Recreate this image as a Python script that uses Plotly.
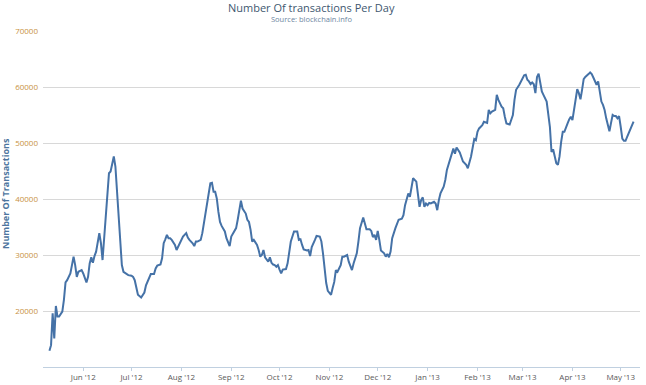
import plotly.graph_objects as go

dates_2012 = [
    "05-11", "05-12", "05-13", "05-14", "05-15", "05-16", "05-17", "05-19", "05-20", "05-21",
    "05-22", "05-24", "05-25", "05-26", "05-27", "05-28", "05-29", "05-31", "06-01", "06-02",
    "06-03", "06-04", "06-05", "06-06", "06-07", "06-08", "06-09", "06-11", "06-12", "06-13",
    "06-14", "06-15", "06-16", "06-17", "06-18", "06-19", "06-20", "06-21", "06-22", "06-23",
    "06-24", "06-25", "06-26", "06-28", "06-29", "07-01", "07-02", "07-03", "07-04", "07-05",
    "07-07", "07-08", "07-09", "07-10", "07-12", "07-13", "07-15", "07-16", "07-17", "07-19",
    "07-20", "07-21", "07-22", "07-23", "07-24", "07-25", "07-26", "07-28", "07-29", "07-30",
    "08-01", "08-02", "08-04", "08-05", "08-06", "08-08", "08-09", "08-10", "08-11", "08-13",
    "08-14", "08-15", "08-16", "08-18", "08-19", "08-20", "08-21", "08-22", "08-23", "08-24",
    "08-25", "08-26", "08-28", "08-29", "08-31", "09-01", "09-03", "09-04", "09-05", "09-06",
    "09-07", "09-08", "09-10", "09-11", "09-12", "09-13", "09-14", "09-15", "09-17", "09-18",
    "09-19", "09-20", "09-21", "09-22", "09-24", "09-25", "09-26", "09-27", "09-28", "09-29",
    "09-30", "10-01", "10-02", "10-03", "10-05", "10-06", "10-07", "10-08", "10-10", "10-12",
    "10-13", "10-14", "10-15", "10-16", "10-18", "10-19", "10-20", "10-21", "10-23", "10-24",
    "10-26", "10-27", "10-28", "10-29", "10-30", "10-31", "11-02", "11-03", "11-04", "11-05",
    "11-06", "11-08", "11-09", "11-10", "11-12", "11-13", "11-14", "11-15", "11-16", "11-18",
    "11-19", "11-20", "11-22", "11-23", "11-24", "11-26", "11-27", "11-28", "11-29", "11-30",
    "12-01", "12-02", "12-03", "12-05", "12-06", "12-07", "12-08", "12-09", "12-10", "12-12",
    "12-13", "12-14", "12-16", "12-17", "12-18", "12-20", "12-21", "12-22", "12-23", "12-25",
    "12-26", "12-27", "12-28", "12-29", "12-30", "12-31",
]
values_2012 = [
    12900, 13900, 19600, 15100, 20900, 19000, 19000, 19900, 22000, 25100,
    25500, 26700, 28200, 29700, 28200, 26100, 27000, 27300, 26700, 25800,
    25100, 26100, 28500, 29600, 28600, 29800, 30600, 33900, 32100, 29100,
    33300, 37400, 41600, 44600, 44900, 46100, 47600, 45800, 41600, 36800,
    31500, 28200, 27000, 26600, 26400, 26300, 26100, 25500, 24000, 22900,
    22400, 22900, 23300, 24600, 26100, 26600, 26600, 27600, 28100, 28300,
    29400, 32100, 32800, 33600, 33000, 33000, 32700, 31800, 30900, 31500,
    32400, 33300, 33900, 33100, 32700, 32100, 31600, 32400, 32400, 32700,
    33900, 35700, 38000, 41300, 42800, 42900, 41300, 41300, 40100, 37700,
    35900, 35200, 34200, 33000, 31600, 33300, 34500, 34800, 36300, 37700,
    39700, 38300, 37400, 36300, 35900, 34500, 32400, 32700, 31800, 30900,
    29700, 30000, 30900, 29600, 28800, 29600, 28600, 28300, 28200, 27900,
    28200, 27400, 26700, 27400, 27500, 28500, 30600, 32400, 34200, 34200,
    32700, 32800, 31800, 31000, 30800, 30900, 29800, 31400, 32700, 33400,
    33300, 32400, 30300, 27300, 25000, 23600, 22900, 24100, 25200, 27300,
    27000, 28200, 29700, 29700, 30000, 28800, 27900, 27300, 28500, 30300,
    32400, 34800, 36700, 35800, 34600, 34600, 34300, 33200, 33600, 32700,
    34300, 32700, 30800, 30300, 29700, 30200, 29600, 30600, 33000, 34800,
    35700, 36300, 36500, 37100, 38900, 41000, 40400, 42500, 43700, 43100,
    40400, 38600, 39800, 40300, 38600, 39200,
]
dates_2013 = [
    "01-01", "01-02", "01-03", "01-05", "01-06", "01-07", "01-08", "01-09", "01-11", "01-12",
    "01-13", "01-14", "01-16", "01-17", "01-18", "01-19", "01-21", "01-22", "01-23", "01-25",
    "01-26", "01-28", "01-29", "01-30", "01-31", "02-01", "02-02", "02-04", "02-05", "02-07",
    "02-08", "02-09", "02-10", "02-12", "02-13", "02-14", "02-16", "02-17", "02-18", "02-19",
    "02-21", "02-22", "02-23", "02-24", "02-25", "02-27", "02-28", "03-01", "03-02", "03-03",
    "03-04", "03-05", "03-06", "03-07", "03-08", "03-09", "03-10", "03-11", "03-12", "03-13",
    "03-14", "03-15", "03-16", "03-18", "03-19", "03-20", "03-21", "03-22", "03-23", "03-24",
    "03-25", "03-26", "03-27", "03-28", "03-29", "03-30", "03-31", "04-01", "04-02", "04-03",
    "04-04", "04-05", "04-06", "04-07", "04-08", "04-09", "04-10", "04-11", "04-12", "04-13",
    "04-14", "04-15", "04-16", "04-17", "04-18", "04-19", "04-20", "04-21", "04-22", "04-23",
    "04-24", "04-25", "04-26", "04-27", "04-28", "04-29", "04-30", "05-01", "05-02", "05-03",
    "05-04", "05-05", "05-06", "05-07", "05-08", "05-09",
]
values_2013 = [
    38900, 39300, 39200, 39500, 39200, 38000, 39800, 41000, 42200, 43400,
    45200, 46100, 47900, 49000, 48100, 49200, 48300, 47600, 46700, 46100,
    45500, 47600, 49400, 50700, 50500, 52000, 52600, 53200, 53800, 53600,
    55900, 55300, 55600, 55900, 58600, 57700, 56500, 56200, 54700, 53500,
    53300, 54100, 55000, 57700, 59500, 60400, 61000, 61500, 62100, 62200,
    61300, 61000, 60500, 60800, 60500, 58900, 61800, 62400, 60600, 59200,
    58600, 58000, 57400, 52900, 48400, 48900, 47600, 46400, 46100, 47600,
    50200, 52000, 52000, 52900, 53500, 54200, 54700, 54100, 55900, 57700,
    59600, 58900, 57800, 59500, 61400, 61800, 62000, 62300, 62600, 62300,
    61700, 61000, 60400, 61000, 59500, 57400, 56800, 55900, 54400, 52900,
    52100, 53600, 55000, 54800, 54800, 54400, 54800, 52900, 50800, 50400,
    50400, 51100, 51800, 52600, 53200, 53800,
]

month_ticks = ["2012-06-01", "2012-07-01", "2012-08-01", "2012-09-01", "2012-10-01",
               "2012-11-01", "2012-12-01", "2013-01-01", "2013-02-01", "2013-03-01",
               "2013-04-01", "2013-05-01"]
month_labels = ["Jun '12", "Jul '12", "Aug '12", "Sep '12", "Oct '12", "Nov '12",
                "Dec '12", "Jan '13", "Feb '13", "Mar '13", "Apr '13", "May '13"]
y_ticks = [20000, 30000, 40000, 50000, 60000, 70000]
y_labels = ["20000", "30000", "40000", "50000", "60000", "70000"]

title_text = "Number Of transactions Per Day"
subtitle_text = "Source: blockchain.info"
y_title = "Number Of Transactions"

dates = ["2012-" + d for d in dates_2012] + ["2013-" + d for d in dates_2013]
values = values_2012 + values_2013

FONT = "Open Sans, Lucida Grande, sans-serif"

fig = go.Figure()
fig.add_trace(go.Scatter(
    x=dates, y=values, mode="lines",
    line=dict(color="#4572A7", width=2),
    hoverinfo="x+y",
))

fig.update_layout(
    width=646, height=385,
    margin=dict(l=43, r=6, t=31, b=18),
    paper_bgcolor="white", plot_bgcolor="white",
    showlegend=False,
    font=dict(family=FONT),
    xaxis=dict(
        range=["2012-05-07", "2013-05-13"],
        tickvals=month_ticks, ticktext=month_labels,
        tickfont=dict(size=8, color="#5a5a5a", family=FONT),
        showgrid=False, zeroline=False,
        showline=True, linecolor="#C0D0E0", linewidth=1,
        ticks="outside", ticklen=3, tickcolor="#C0D0E0",
        ticklabelstandoff=-1,
        automargin=False,
    ),
    yaxis=dict(
        range=[10000, 70000],
        tickvals=y_ticks, ticktext=y_labels,
        tickfont=dict(size=8, color="#C8913F", family=FONT),
        showgrid=True, gridcolor="#D8D8D8", gridwidth=1,
        zeroline=False, showline=False,
        ticklabelstandoff=4,
        automargin=False,
    ),
    annotations=[
        dict(text=title_text, xref="paper", yref="paper", x=0.449, y=1.0,
             yshift=24, showarrow=False, xanchor="center", yanchor="middle",
             borderpad=0,
             font=dict(size=11, color="#3E576F", family=FONT)),
        dict(text=subtitle_text, xref="paper", yref="paper", x=0.449, y=1.0,
             yshift=12.5, showarrow=False, xanchor="center", yanchor="middle",
             borderpad=0,
             font=dict(size=7.5, color="#6D869F", family=FONT)),
        dict(text="<b>" + y_title + "</b>", xref="paper", yref="paper", x=-0.062, y=0.518,
             showarrow=False, xanchor="center", yanchor="middle", textangle=-90,
             font=dict(size=9, color="#4D759E", family=FONT)),
    ],
)

fig.write_html("out.html",
               config={"displayModeBar": False},
               post_script="document.body.style.margin='0';document.body.style.overflow='hidden';")
